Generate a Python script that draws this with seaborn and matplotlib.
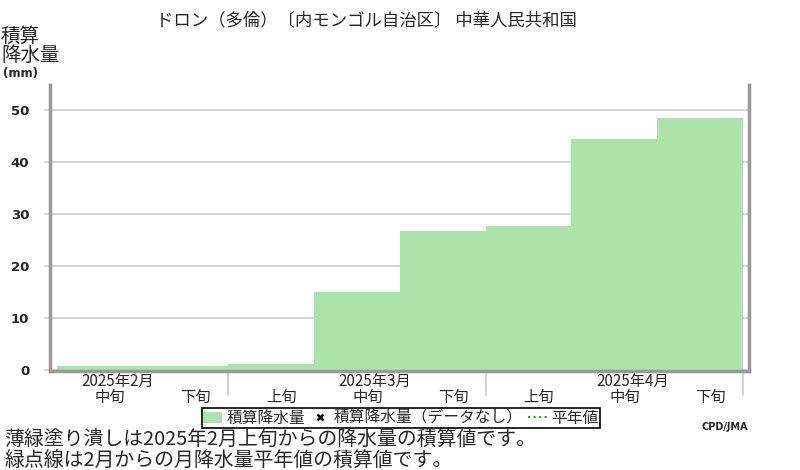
import numpy as np
import pandas as pd
import seaborn as sns
import matplotlib.pyplot as plt
from matplotlib.patches import Patch
from matplotlib.lines import Line2D
import matplotlib.transforms as mtransforms

# data
dekads = ['2月中旬', '2月下旬', '3月上旬', '3月中旬', '3月下旬', '4月上旬', '4月中旬', '4月下旬']
dekad_labels = ['中旬', '下旬', '上旬', '中旬', '下旬', '上旬', '中旬', '下旬']
month_labels = ['2025年2月', '2025年3月', '2025年4月']
month_label_pos = [0, 3, 6]
month_bounds = [1.5, 4.5, 7.5]
cum_precip = [0.8, 0.8, 1.3, 15.0, 26.9, 27.8, 44.5, 48.6]
y_ticks = [0, 10, 20, 30, 40, 50]

df = pd.DataFrame({'dekad': dekads, 'precip': cum_precip})

sns.set_style('white')
plt.rcParams['font.family'] = ['Noto Sans CJK JP', 'DejaVu Sans']

fig = plt.figure(figsize=(8, 4.7), dpi=100)
ax = fig.add_axes([50 / 800, 1 - 371 / 470, 699 / 800, 286 / 470])

sns.barplot(data=df, x='dekad', y='precip', color='#abe3aa', saturation=1,
            width=1.0, linewidth=0, ax=ax, zorder=2)

ax.set_xlim(-0.58, 7.57)
ax.set_ylim(-0.1, 54.9)
ax.set_yticks(y_ticks)
ax.set_yticklabels([str(v) for v in y_ticks], fontweight='bold', fontsize=9.5,
                   family='DejaVu Sans')
ax.yaxis.grid(True, color='#d0d0d0', linewidth=1.2, zorder=0)
ax.set_axisbelow(True)
ax.tick_params(axis='y', length=4, color='#d0d0d0', width=1.2, pad=11, left=True)
ax.set_xticks([])
ax.set_xlabel('')
ax.set_ylabel('')

for side in ['left', 'bottom', 'right']:
    ax.spines[side].set_color('#999999')
    ax.spines[side].set_linewidth(2.5)
ax.spines['top'].set_visible(False)

# dekad and month labels below the axis
trans = mtransforms.blended_transform_factory(ax.transData, fig.transFigure)
for i, lab in enumerate(dekad_labels):
    ax.text(i + 0.12, 1 - 397 / 470, lab, transform=trans, ha='center', va='center',
            fontsize=11)
for pos, lab in zip(month_label_pos, month_labels):
    ax.text(pos + 0.21, 1 - 381 / 470, lab, transform=trans, ha='center', va='center',
            fontsize=11)
for b in month_bounds:
    ax.plot([b, b], [1 - 372 / 470, 1 - 395 / 470], transform=trans, color='#cccccc',
            linewidth=1.2, clip_on=False)

# title and axis label
fig.text(366 / 800, 1 - 20 / 470, 'ドロン（多倫）〔内モンゴル自治区〕 中華人民共和国',
         ha='center', va='center', fontsize=12.5)
fig.text(1 / 800, 1 - 46 / 470, '積算\n降水量', ha='left', va='center', fontsize=14,
         linespacing=0.9)
fig.text(3 / 800, 1 - 74 / 470, '(mm)', ha='left', va='center', fontsize=8.5,
         fontweight='bold', family='DejaVu Sans')

# legend
handles = [
    Patch(facecolor='#abe3aa', edgecolor='none'),
    Line2D([], [], linestyle='none', marker='x', color='black', markersize=4,
           markeredgewidth=1.8),
    Line2D([], [], linestyle=':', color='#2ca02c', linewidth=1.5),
]
labels = ['積算降水量', '積算降水量（データなし）', '平年値']
leg = fig.legend(handles, labels, loc='center', bbox_to_anchor=(401 / 800, 1 - 418 / 470),
                 ncol=3, fontsize=11.3, frameon=True, fancybox=False, edgecolor='black',
                 framealpha=1, borderpad=0.1, handlelength=1.2, handletextpad=0.3,
                 columnspacing=0.3, borderaxespad=0)
leg.get_frame().set_linewidth(1.2)

fig.text(725 / 800, 1 - 427 / 470, 'CPD/JMA', ha='center', va='center', fontsize=7,
         fontweight='bold', family='DejaVu Sans')

# footnotes
fig.text(4 / 800, 1 - 440 / 470, '薄緑塗り潰しは2025年2月上旬からの降水量の積算値です。',
         ha='left', va='center', fontsize=14.3)
fig.text(4 / 800, 1 - 460 / 470, '緑点線は2月からの月降水量平年値の積算値です。',
         ha='left', va='center', fontsize=14.3)

fig.savefig('out.png', dpi=100)
